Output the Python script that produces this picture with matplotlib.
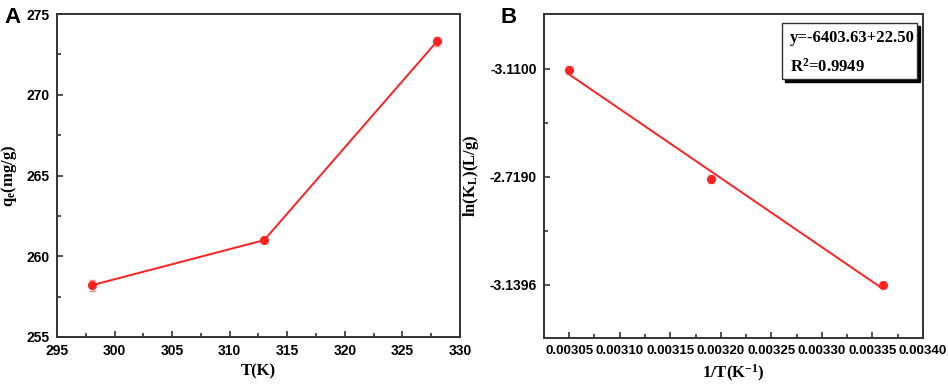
import matplotlib
matplotlib.use("Agg")
import matplotlib.pyplot as plt
from matplotlib.patches import Rectangle
from matplotlib.ticker import MultipleLocator
import numpy as np

# panel A: adsorption capacity vs temperature
temp_k = [298, 313, 328]
qe = [258.2, 261.0, 273.3]
qe_err = [0.35, 0.2, 0.3]

# panel B: van't Hoff plot (y is a rank scale, labels as printed in the figure)
inv_t = [0.00305, 0.00319, 0.00336]
ln_kl = [2.99, 1.98, 1.0]
ln_kl_err = [0.04, 0.04, 0.03]
b_ytick_pos = [3, 2, 1]
b_ytick_labels = ['-3.1100', '-2.7190', '-3.1396']
fit_text = ['y=-6403.63+22.50', 'R$^\\mathbf{2}$=0.9949']

plt.rcParams['mathtext.fontset'] = 'custom'
plt.rcParams['mathtext.rm'] = 'Liberation Serif:bold'
plt.rcParams['mathtext.bf'] = 'Liberation Serif:bold'
plt.rcParams['mathtext.it'] = 'Liberation Serif:bold'

red = '#ff2020'
tick_font = {'family': 'Liberation Sans', 'weight': 'bold', 'size': 10}
label_font = {'family': 'Liberation Serif', 'weight': 'bold', 'size': 12}

fig = plt.figure(figsize=(9.48, 3.87), dpi=100)
axA = fig.add_axes([0.0601, 0.1292, 0.4251, 0.8346])
axB = fig.add_axes([0.5738, 0.1266, 0.3998, 0.8372])

for ax in (axA, axB):
    for sp in ax.spines.values():
        sp.set_linewidth(1.4)
        sp.set_color('#333333')
    ax.tick_params(which='both', direction='in', color='#333333', width=1.2)
    ax.tick_params(which='major', length=4, pad=5)
    ax.tick_params(which='minor', length=3)

# A
axA.plot(temp_k, qe, color=red, lw=1.4)
axA.errorbar(temp_k, qe, yerr=qe_err, fmt='o', color=red, ms=5.5,
             ecolor='#ff8080', elinewidth=1, capsize=2.5)
axA.set_xlim(295, 330)
axA.set_ylim(255, 275)
axA.xaxis.set_major_locator(MultipleLocator(5))
axA.xaxis.set_minor_locator(MultipleLocator(2.5))
axA.yaxis.set_major_locator(MultipleLocator(5))
axA.yaxis.set_minor_locator(MultipleLocator(2.5))
for lab in axA.get_xticklabels() + axA.get_yticklabels():
    lab.set_fontproperties(tick_font)
axA.set_xlabel('T(K)', fontdict=label_font, labelpad=4)
axA.set_ylabel('q$_\\mathbf{e}$(mg/g)', fontdict=label_font, labelpad=6)

# B
coef = np.polyfit(inv_t, ln_kl, 1)
xf = np.array([inv_t[0], inv_t[-1]])
axB.plot(xf, np.polyval(coef, xf), color=red, lw=1.4)
axB.errorbar(inv_t, ln_kl, yerr=ln_kl_err, fmt='o', color=red, ms=5.5,
             ecolor='#ff8080', elinewidth=1, capsize=2.5)
axB.set_xlim(0.003025, 0.0034)
axB.set_ylim(0.509, 3.509)
xt = np.arange(0.00305, 0.003401, 0.00005)
axB.set_xticks(xt)
axB.set_xticklabels(['%.5f' % v for v in xt])
axB.xaxis.set_minor_locator(MultipleLocator(0.000025))
axB.set_yticks(b_ytick_pos)
axB.set_yticklabels(b_ytick_labels)
axB.set_yticks([1.5, 2.5], minor=True)
for lab in axB.get_xticklabels() + axB.get_yticklabels():
    lab.set_fontproperties(tick_font)
for lab in axB.get_xticklabels():
    lab.set_fontsize(9.5)
axB.set_xlabel('1/T(K$^\\mathbf{-1}$)', fontdict=label_font, labelpad=4)
axB.set_ylabel('ln(K$_\\mathbf{L}$)(L/g)', fontdict=label_font, labelpad=6)

# fit box with black shadow
axB.add_patch(Rectangle((0.636, 0.789), 0.356, 0.173, transform=axB.transAxes,
                        facecolor='black', edgecolor='black', zorder=4))
axB.add_patch(Rectangle((0.628, 0.799), 0.356, 0.173, transform=axB.transAxes,
                        facecolor='white', edgecolor='#333333', lw=1, zorder=5))
box_font = {'family': 'Liberation Serif', 'weight': 'bold', 'size': 12}
axB.text(0.648, 0.925, fit_text[0], transform=axB.transAxes, va='center',
         fontdict=box_font, zorder=6)
axB.text(0.648, 0.837, fit_text[1], transform=axB.transAxes, va='center',
         fontdict=box_font, zorder=6)

fig.text(0.005, 0.94, 'A', fontsize=16, fontweight='bold', family='Liberation Sans')
fig.text(0.528, 0.94, 'B', fontsize=16, fontweight='bold', family='Liberation Sans')

fig.savefig('out.png', dpi=100)
